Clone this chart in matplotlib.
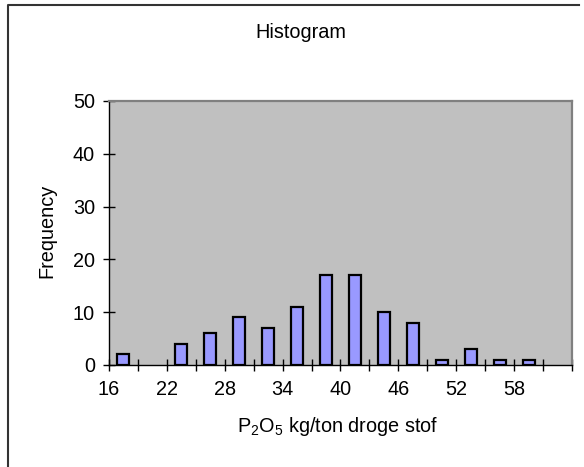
import numpy as np
import matplotlib
matplotlib.use('Agg')
import matplotlib.pyplot as plt
from matplotlib.lines import Line2D

plt.rcParams['font.family'] = ['Liberation Sans', 'DejaVu Sans']
plt.rcParams['mathtext.fontset'] = 'custom'
plt.rcParams['mathtext.rm'] = 'Liberation Sans'

# Histogram data: bins of width 3 starting at 16
bin_left = [16, 19, 22, 25, 28, 31, 34, 37, 40, 43, 46, 49, 52, 55, 58, 61]
counts = [2, 0, 4, 6, 9, 7, 11, 17, 17, 10, 8, 1, 3, 1, 1, 0]
tick_labels = ['16', '22', '28', '34', '40', '46', '52', '58']
bin_w = 3

W, H = 584, 467
FS = 14.3
fig = plt.figure(figsize=(W / 100, H / 100), dpi=100)
ax = fig.add_axes([109 / W, 1 - 365 / H, (572 - 109) / W, (365 - 101) / H])
ax.set_facecolor('#C0C0C0')

# empty bins are not drawn
x = np.array(bin_left) + bin_w / 2
y = np.array(counts)
keep = y > 0
ax.bar(x[keep], y[keep], width=1.25, color='#9999FF', edgecolor='black',
       linewidth=1.6, zorder=3)

ax.set_xlim(bin_left[0], bin_left[-1] + bin_w)
ax.set_ylim(0, 50)
ax.set_yticks([0, 10, 20, 30, 40, 50])
edges = np.append(bin_left, bin_left[-1] + bin_w)
ax.set_xticks(edges)
labels = [''] * len(edges)
for i, t in enumerate(tick_labels):
    labels[2 * i] = t
ax.set_xticklabels(labels)

ax.tick_params(axis='both', direction='inout', length=8, width=1,
               labelsize=FS, colors='black')
ax.tick_params(axis='y', pad=6)
ax.tick_params(axis='x', pad=7)

for s in ['left', 'bottom']:
    ax.spines[s].set_color('black')
    ax.spines[s].set_linewidth(1)
for s in ['top', 'right']:
    ax.spines[s].set_color('#808080')
    ax.spines[s].set_linewidth(1.6)

fig.text(301 / W, 1 - 32 / H, 'Histogram', ha='center', va='center',
         fontsize=FS)
fig.text(338 / W, 1 - 426 / H, r'P$_\mathregular{2}$O$_\mathregular{5}$ kg/ton droge stof',
         ha='center', va='center', fontsize=FS)
fig.text(46.5 / W, 1 - 231 / H, 'Frequency', ha='center', va='center',
         rotation=90, fontsize=FS)

# outer chart frame (left and top edges visible)
fig.add_artist(Line2D([8 / W, 8 / W, 579 / W], [0, 1 - 5 / H, 1 - 5 / H],
                      transform=fig.transFigure, color='#333333', linewidth=1.5))

fig.savefig('out.png', dpi=100)
